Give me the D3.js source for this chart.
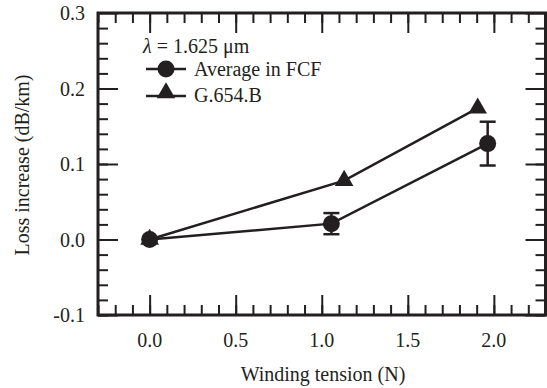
<!DOCTYPE html>
<html lang="en">
<head>
    <meta charset="UTF-8">
    <title>Loss increase vs winding tension</title>
    <style>
        body {
            margin: 0;
            background-color: white;
        }
        svg {
            display: block;
        }
        svg text {
            font-family: "Liberation Serif", "DejaVu Serif", serif;
        }
    </style>
</head>
<body>
    <svg width="547" height="388"></svg>
    <script src="https://d3js.org/d3.v7.min.js"></script>
    <script>
        // data
        const fcfTension = [0, 1.056, 1.964];
        const fcfLoss = [0, 0.021, 0.127];
        const fcfErr = [0, 0.014, 0.029];
        const g654Tension = [0, 1.13, 1.906];
        const g654Loss = [0, 0.078, 0.174];
        const xTicks = [0, 0.5, 1.0, 1.5, 2.0];
        const yTicks = [-0.1, 0.0, 0.1, 0.2, 0.3];

        const ink = "#231f20";

        const svg = d3.select("svg");
        const plotL = 98, plotR = 545.5, plotT = 13, plotB = 315;

        const x = d3.scaleLinear().domain([-0.3, 2.3]).range([plotL, plotR]);
        const y = d3.scaleLinear().domain([-0.1, 0.3]).range([plotB, plotT]);

        // plain hyphen for negatives, like the original
        const fmt = v => d3.format(".1f")(v).replace("\u2212", "-");

        // inward ticks on all four sides via d3 axes (minor first, then major)
        const xMinor = d3.range(-3, 23).map(i => i / 10);
        const yMinor = d3.range(-5, 15).map(i => i / 50);

        function frameAxis(axis, transform, values, size) {
            const g = svg.append("g").attr("transform", transform)
                .call(axis.tickValues(values).tickSize(size).tickFormat(""));
            g.select(".domain").remove();
            g.selectAll("line").attr("stroke", ink).attr("stroke-width", 2);
        }
        frameAxis(d3.axisBottom(x), `translate(0,${plotB})`, xMinor, -10);
        frameAxis(d3.axisBottom(x), `translate(0,${plotB})`, xTicks, -20);
        frameAxis(d3.axisTop(x), `translate(0,${plotT})`, xMinor, -10);
        frameAxis(d3.axisTop(x), `translate(0,${plotT})`, xTicks, -20);
        frameAxis(d3.axisLeft(y), `translate(${plotL},0)`, yMinor, -10);
        frameAxis(d3.axisLeft(y), `translate(${plotL},0)`, yTicks, -20);
        frameAxis(d3.axisRight(y), `translate(${plotR},0)`, yMinor, -10);
        frameAxis(d3.axisRight(y), `translate(${plotR},0)`, yTicks, -20);

        svg.append("rect")
            .attr("x", plotL).attr("y", plotT)
            .attr("width", plotR - plotL).attr("height", plotB - plotT)
            .attr("fill", "none").attr("stroke", ink).attr("stroke-width", 3);

        // tick labels
        svg.append("g").selectAll("text").data(xTicks).join("text")
            .attr("x", d => x(d)).attr("y", 347)
            .attr("text-anchor", "middle").attr("font-size", 20).attr("fill", ink)
            .text(d => fmt(d));
        svg.append("g").selectAll("text").data(yTicks).join("text")
            .attr("x", 85).attr("y", d => y(d) + 7)
            .attr("text-anchor", "end").attr("font-size", 20).attr("fill", ink)
            .text(d => fmt(d));

        // axis titles
        svg.append("text")
            .attr("x", 323).attr("y", 381)
            .attr("text-anchor", "middle").attr("font-size", 20).attr("fill", ink)
            .text("Winding tension (N)");
        svg.append("text")
            .attr("transform", "translate(29,165) rotate(-90)")
            .attr("text-anchor", "middle").attr("font-size", 20).attr("fill", ink)
            .text("Loss increase (dB/km)");

        // series
        const line = d3.line().x(d => x(d[0])).y(d => y(d[1]));
        const fcf = fcfTension.map((t, i) => [t, fcfLoss[i], fcfErr[i]]);
        const g654 = g654Tension.map((t, i) => [t, g654Loss[i]]);

        svg.append("path").datum(g654).attr("d", line)
            .attr("fill", "none").attr("stroke", ink).attr("stroke-width", 2.5);
        svg.append("path").datum(fcf).attr("d", line)
            .attr("fill", "none").attr("stroke", ink).attr("stroke-width", 2.5);

        // error bars
        const eb = svg.append("g");
        fcf.filter(d => d[2] > 0).forEach(d => {
            const cx = x(d[0]);
            const hi = y(d[1] + d[2]), lo = y(d[1] - d[2]);
            [[cx, lo, cx, hi], [cx - 8, hi, cx + 8, hi], [cx - 8, lo, cx + 8, lo]].forEach(s => {
                eb.append("line")
                    .attr("x1", s[0]).attr("y1", s[1]).attr("x2", s[2]).attr("y2", s[3])
                    .attr("stroke", ink).attr("stroke-width", 2.5);
            });
        });

        const tri = d3.symbol().type(d3.symbolTriangle).size(150);
        svg.append("g").selectAll("path").data(g654).join("path")
            .attr("d", tri)
            .attr("transform", d => `translate(${x(d[0])},${y(d[1])})`)
            .attr("fill", ink);
        svg.append("g").selectAll("circle").data(fcf).join("circle")
            .attr("cx", d => x(d[0])).attr("cy", d => y(d[1])).attr("r", 8.5)
            .attr("fill", ink);

        // legend
        const lg = svg.append("g").attr("fill", ink);
        const lam = lg.append("text").attr("x", 143).attr("y", 53).attr("font-size", 20);
        lam.append("tspan").attr("font-style", "italic").text("λ");
        lam.append("tspan").text(" = 1.625 μm");

        lg.append("line").attr("x1", 146).attr("x2", 186).attr("y1", 69).attr("y2", 69)
            .attr("stroke", ink).attr("stroke-width", 2.5);
        lg.append("circle").attr("cx", 166).attr("cy", 69).attr("r", 8.5).attr("fill", ink);
        lg.append("text").attr("x", 194).attr("y", 76).attr("font-size", 20).text("Average in FCF");

        lg.append("line").attr("x1", 146).attr("x2", 186).attr("y1", 96).attr("y2", 96)
            .attr("stroke", ink).attr("stroke-width", 2.5);
        lg.append("path").attr("d", tri).attr("transform", "translate(166,93)").attr("fill", ink);
        lg.append("text").attr("x", 194).attr("y", 102).attr("font-size", 20).text("G.654.B");
    </script>
</body>
</html>
